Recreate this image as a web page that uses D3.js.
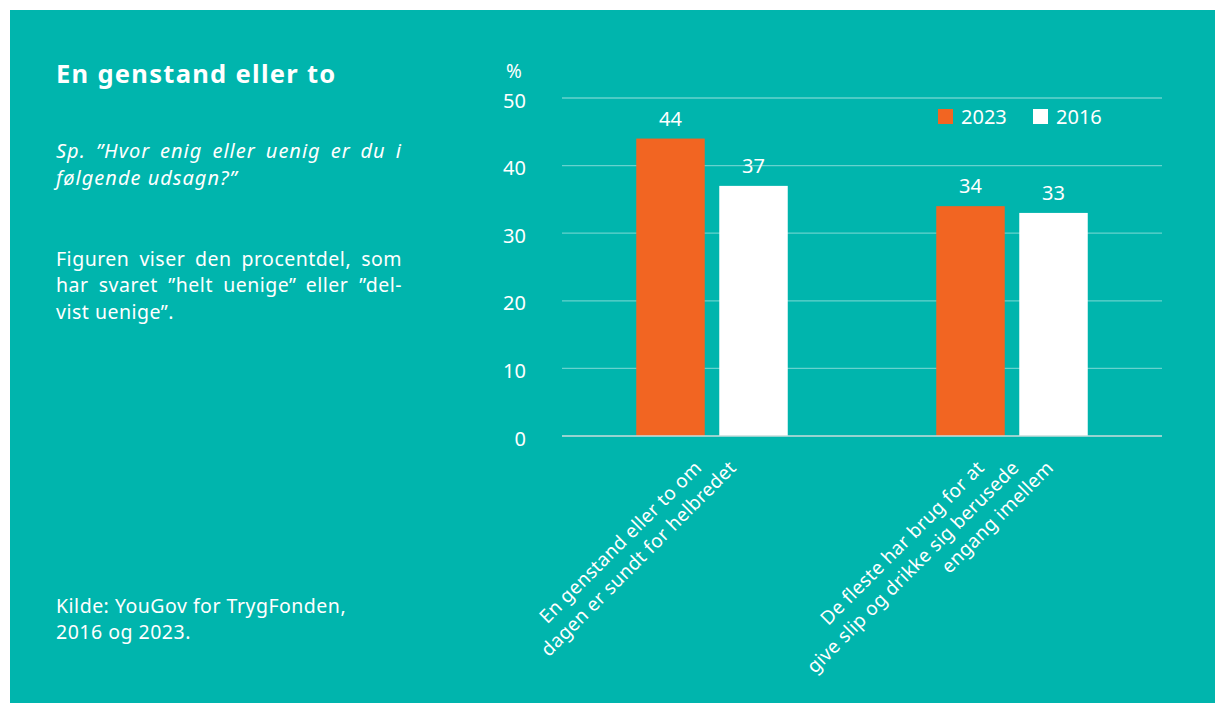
<!DOCTYPE html>
<html>
<head>
<meta charset="utf-8">
<script src="https://cdn.jsdelivr.net/npm/d3@7"></script>
<style>
  html, body { margin: 0; padding: 0; background: #ffffff; }
  svg { display: block; }
  text { font-family: "Noto Sans", "Open Sans", sans-serif; fill: #ffffff; }
</style>
</head>
<body>
<svg id="chart" width="1215" height="703"></svg>
<script>
// Category labels (one entry per line of the label)
const categories = [
  ["En genstand eller to om", "dagen er sundt for helbredet"],
  ["De fleste har brug for at", "give slip og drikke sig berusede", "engang imellem"]
];
const seriesNames = ["2023", "2016"];

// Values per series (percent)
const series2023 = [44, 34];
const series2016 = [37, 33];
const yTicks = [0, 10, 20, 30, 40, 50];

const title = "En genstand eller to";
const questionLines = ["Sp. ”Hvor enig eller uenig er du i", "følgende udsagn?”"];
const noteLines = ["Figuren viser den procentdel, som", "har svaret ”helt uenige” eller ”del-", "vist uenige”."];
const sourceLines = ["Kilde: YouGov for TrygFonden,", "2016 og 2023."];

const colors = { "2023": "#F26522", "2016": "#FFFFFF" };
const teal = "#00B5AD";

const svg = d3.select("#chart");

// Panel background
svg.append("rect").attr("x", 10).attr("y", 10).attr("width", 1205).attr("height", 693).attr("fill", teal);

// Left text column
const textLeft = 56, textRight = 402;

svg.append("text").attr("x", textLeft).attr("y", 83)
  .attr("font-size", 25.5).attr("font-weight", 700).attr("letter-spacing", 1.3).text(title);

// Justified paragraph: spread the words of every line except the last across the column
function paragraph(lines, y0, lineH, opts) {
  lines.forEach((line, i) => {
    const t = svg.append("text").attr("x", textLeft).attr("y", y0 + i * lineH)
      .attr("font-size", opts.size).attr("letter-spacing", opts.spacing)
      .attr("font-style", opts.italic ? "italic" : "normal");
    if (opts.justify && i < lines.length - 1) {
      const words = line.split(" ");
      const spans = words.map(w => t.append("tspan").text(w));
      const widths = spans.map(s => s.node().getComputedTextLength());
      const total = d3.sum(widths);
      const gap = (textRight - textLeft - total) / (words.length - 1);
      let x = textLeft;
      spans.forEach((s, k) => { s.attr("x", x); x += widths[k] + gap; });
    } else {
      t.text(line);
    }
  });
}

paragraph(questionLines, 158, 26.7, { size: 20, spacing: 1, italic: true, justify: true });
paragraph(noteLines, 265.5, 26.5, { size: 19.5, spacing: 0.5, justify: true });
paragraph(sourceLines, 613, 26, { size: 19.5, spacing: 0.5 });

// Chart area
const plot = { left: 562, right: 1162, top: 98, bottom: 436 };

const y = d3.scaleLinear().domain([0, 50]).range([plot.bottom, plot.top]);

const x0 = d3.scaleBand().domain(d3.range(categories.length))
  .range([plot.left, plot.right]).paddingInner(0.495).paddingOuter(0.2475);
const x1 = d3.scaleBand().domain(seriesNames)
  .range([0, x0.bandwidth()]).paddingInner(0.175).paddingOuter(0);

// Gridlines
svg.append("g").selectAll("line").data(yTicks.filter(d => d > 0)).join("line")
  .attr("x1", plot.left).attr("x2", plot.right)
  .attr("y1", d => y(d)).attr("y2", d => y(d))
  .attr("stroke", "rgba(255,255,255,0.4)").attr("stroke-width", 1.3);

// Y axis tick labels
const yAxis = d3.axisLeft(y).tickValues(yTicks).tickSize(0).tickPadding(0);
const gy = svg.append("g").attr("transform", `translate(526,0)`).call(yAxis);
gy.select(".domain").remove();
gy.selectAll("text").attr("font-size", 20).attr("fill", "#ffffff")
  .style("font-family", "\"Noto Sans\", sans-serif").attr("dy", "0.35em")
  .attr("transform", "translate(0,2)");

svg.append("text").attr("x", 514).attr("y", 78).attr("text-anchor", "middle")
  .attr("font-size", 19).text("%");

// Bars
const rows = categories.map((c, i) => ({ i, vals: [
  { key: "2023", v: series2023[i] }, { key: "2016", v: series2016[i] }
]}));

const groups = svg.append("g").selectAll("g").data(rows).join("g")
  .attr("transform", d => `translate(${x0(d.i)},0)`);

groups.selectAll("rect").data(d => d.vals).join("rect")
  .attr("x", d => x1(d.key)).attr("width", x1.bandwidth())
  .attr("y", d => y(d.v)).attr("height", d => y(0) - y(d.v))
  .attr("fill", d => colors[d.key]);

groups.selectAll("text.val").data(d => d.vals).join("text").attr("class", "val")
  .attr("x", d => x1(d.key) + x1.bandwidth() / 2).attr("y", d => y(d.v) - 13)
  .attr("text-anchor", "middle").attr("font-size", 20).text(d => d.v);

// Baseline
svg.append("line").attr("x1", plot.left).attr("x2", plot.right)
  .attr("y1", y(0)).attr("y2", y(0))
  .attr("stroke", "#c9dedc").attr("stroke-width", 1.3);

// Rotated category labels: each line ends on a common horizontal just under the axis,
// successive lines stepping right by one rotated line height
const lineStep = 24.5 * Math.SQRT2;
categories.forEach((lines, i) => {
  const cx = x0(i) + x0.bandwidth() / 2;
  const n = lines.length;
  lines.forEach((line, k) => {
    const px = cx + 8 + (k - (n - 1) / 2) * lineStep;
    svg.append("text")
      .attr("transform", `translate(${px},${plot.bottom + 33}) rotate(-45)`)
      .attr("text-anchor", "end").attr("font-size", 19).attr("letter-spacing", 0.3)
      .text(line);
  });
});

// Legend
const legend = svg.append("g").attr("transform", "translate(938,109)");
seriesNames.forEach((name, k) => {
  const gx = k * 95;
  legend.append("rect").attr("x", gx).attr("y", 0).attr("width", 15).attr("height", 15).attr("fill", colors[name]);
  legend.append("text").attr("x", gx + 23).attr("y", 15).attr("font-size", 20).text(name);
});
</script>
</body>
</html>
